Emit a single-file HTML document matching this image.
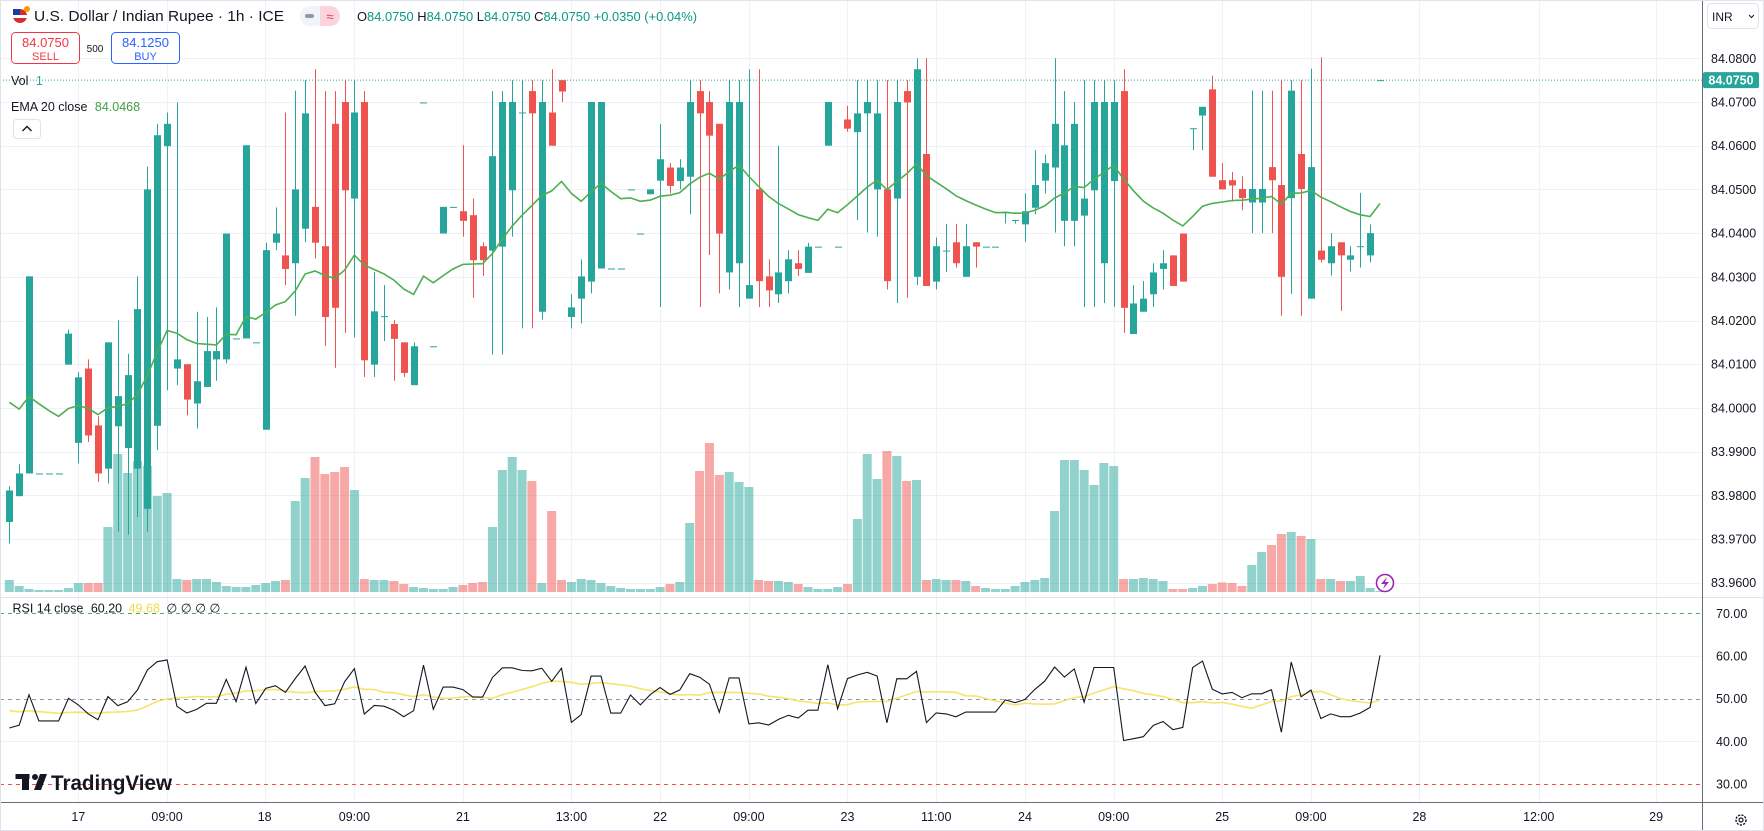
<!DOCTYPE html>
<html><head><meta charset="utf-8"><style>
html,body{margin:0;padding:0;background:#fff;}
svg{display:block;font-family:"Liberation Sans",sans-serif;}
</style></head><body>
<svg id="chart" width="1764" height="831" viewBox="0 0 1764 831" xmlns="http://www.w3.org/2000/svg">
<rect x="0" y="0" width="1764" height="831" fill="#ffffff"/>
<g id="grid"></g>
<g id="vol"></g>
<g id="candles"></g>
<g id="ema"></g>
<g id="rsi"></g>
<g id="axes"></g>

<g>
  <g>
    <circle cx="20" cy="16" r="7" fill="#d32f2f"/>
    <rect x="13" y="15" width="14" height="3" fill="#fff"/>
    <rect x="13" y="9" width="7" height="6" fill="#1a3e9c"/>
    <circle cx="27" cy="9" r="3" fill="#ff9800"/>
  </g>
  <text x="34" y="21" font-size="15" fill="#131722" textLength="250" lengthAdjust="spacingAndGlyphs">U.S. Dollar / Indian Rupee · 1h · ICE</text>
  <g>
    <rect x="300" y="6" width="40" height="20" rx="10" fill="#f0f3fa"/>
    <path d="M320,6 h10 a10,10 0 0 1 0,20 h-10 z" fill="#fcd4de"/>
    <rect x="305" y="14" width="9" height="4" rx="2" fill="#9598a1"/>
    <text x="330" y="21" font-size="13" fill="#f23645" text-anchor="middle">≈</text>
  </g>
  <text x="357" y="21" font-size="13" fill="#131722" textLength="340" lengthAdjust="spacingAndGlyphs">O<tspan fill="#089981">84.0750</tspan> H<tspan fill="#089981">84.0750</tspan> L<tspan fill="#089981">84.0750</tspan> C<tspan fill="#089981">84.0750</tspan> <tspan fill="#089981">+0.0350 (+0.04%)</tspan></text>
  <g>
    <rect x="11.5" y="32.5" width="68" height="31" rx="4" fill="#fff" stroke="#f23645"/>
    <text x="45.5" y="47" font-size="13" fill="#f23645" text-anchor="middle">84.0750</text>
    <text x="45.5" y="60" font-size="11" fill="#f23645" text-anchor="middle">SELL</text>
  </g>
  <text x="95" y="52" font-size="10" fill="#131722" text-anchor="middle">500</text>
  <g>
    <rect x="111.5" y="32.5" width="68" height="31" rx="4" fill="#fff" stroke="#2962ff"/>
    <text x="145.5" y="47" font-size="13" fill="#2962ff" text-anchor="middle">84.1250</text>
    <text x="145.5" y="60" font-size="11" fill="#2962ff" text-anchor="middle">BUY</text>
  </g>
  <text x="11" y="85" font-size="12.5" fill="#131722">Vol <tspan fill="#26a69a" dx="4">1</tspan></text>
  <text x="11" y="111" font-size="12.5" fill="#131722">EMA 20 close <tspan fill="#43a047" dx="4">84.0468</tspan></text>
  <g>
    <rect x="13.5" y="119.5" width="27" height="19" rx="3" fill="#fff" stroke="#e0e3eb"/>
    <path d="M22.5,131 L27,126.5 L31.5,131" fill="none" stroke="#131722" stroke-width="1.4"/>
  </g>
</g>

<g>
  <text x="12.5" y="612.5" font-size="12.5" fill="#131722">RSI 14 close <tspan dx="4">60.20</tspan> <tspan fill="#f2d94e" dx="3">49.68</tspan> <tspan dx="3">∅ ∅ ∅ ∅</tspan></text>
</g>

<g>
  <rect x="15.5" y="774" width="14" height="5" fill="#131722"/>
  <rect x="22" y="774" width="7" height="16" fill="#131722"/>
  <circle cx="35" cy="777" r="3" fill="#131722"/>
  <polygon points="40,774 47,774 41,790 34,790" fill="#131722"/>
  <text x="51" y="790" font-size="21" font-weight="bold" fill="#131722" textLength="121" lengthAdjust="spacingAndGlyphs">TradingView</text>
</g>

<g>
  <rect x="1707.5" y="3.5" width="51" height="25" rx="4" fill="#fff" stroke="#e0e3eb"/>
  <text x="1712" y="21" font-size="12" fill="#131722">INR</text>
  <path d="M1749,15 l2.5,2.5 l2.5,-2.5" fill="none" stroke="#131722" stroke-width="1"/>
</g>
<g>
  <circle cx="1385" cy="583" r="8.5" fill="#fff" stroke="#9c27b0" stroke-width="1.6"/>
  <path d="M1387,577 L1381,584 L1385,584 L1383,589 L1389,582 L1385,582 Z" fill="#9c27b0"/>
</g>
<g>
  <circle cx="1741" cy="820" r="5" fill="none" stroke="#131722" stroke-width="1.4" stroke-dasharray="2.2 1.2"/>
  <circle cx="1741" cy="820" r="2" fill="none" stroke="#131722" stroke-width="1.2"/>
</g>
</svg>
<script>
const opens=[83.9739,83.9798,83.9850,83.985,83.985,83.985,84.0099,83.9920,84.0090,83.9960,
83.9861,83.9958,83.9908,83.9861,83.9769,83.9959,84.0599,84.0090,84.0100,84.0010,
84.0048,84.0111,84.0111,84.0159,84.0159,84.0150,83.9950,84.0378,84.0349,84.0331,
84.0410,84.0460,84.0370,84.0650,84.0700,84.0479,84.0700,84.0099,84.0208,84.0192,
84.0150,84.0052,84.0699,84.0141,84.0399,84.0460,84.0450,84.0441,84.0370,84.0360,
84.0369,84.0498,84.0676,84.0725,84.0220,84.0676,84.0750,84.0208,84.0250,84.0289,
84.0319,84.0319,84.0319,84.0500,84.0399,84.0489,84.0520,84.0550,84.0519,84.0529,
84.0725,84.0700,84.0650,84.0310,84.0331,84.0250,84.0500,84.0301,84.0260,84.0290,
84.0331,84.0309,84.0369,84.0600,84.0369,84.0660,84.0631,84.0674,84.0500,84.0500,
84.0479,84.0725,84.0300,84.0581,84.0289,84.0360,84.0379,84.0300,84.0379,84.0369,
84.0369,84.0449,84.0430,84.0420,84.0458,84.0520,84.0550,84.0428,84.0428,84.0440,
84.0498,84.0331,84.0519,84.0725,84.0169,84.0220,84.0260,84.0318,84.0349,84.0399,
84.0640,84.0669,84.0729,84.0521,84.0521,84.0501,84.0470,84.0470,84.0551,84.0510,
84.0480,84.0581,84.0250,84.0360,84.0331,84.0379,84.0339,84.0370,84.0349,84.0750];
const highs=[83.9821,83.9871,84.0301,83.985,83.985,83.985,84.0179,84.0082,84.0111,83.9981,
84.0150,84.0201,84.0124,84.0301,84.0552,84.0650,84.0676,84.0699,84.0100,84.0220,
84.0208,84.0230,84.0399,84.0159,84.0601,84.0150,84.0378,84.0459,84.0676,84.0726,
84.0750,84.0775,84.0725,84.0725,84.0750,84.0750,84.0725,84.0311,84.0281,84.0201,
84.0150,84.0150,84.0699,84.0141,84.0460,84.0460,84.0601,84.0479,84.0379,84.0725,
84.0725,84.0750,84.0750,84.0750,84.0750,84.0775,84.0750,84.0260,84.0340,84.0700,
84.0700,84.0319,84.0319,84.0500,84.0399,84.0500,84.0650,84.0560,84.0569,84.0750,
84.0750,84.0725,84.0650,84.0750,84.0750,84.0775,84.0775,84.0340,84.0600,84.0361,
84.0361,84.0378,84.0369,84.0700,84.0369,84.0691,84.0750,84.0750,84.0750,84.0750,
84.0750,84.0750,84.0800,84.0800,84.0390,84.0421,84.0421,84.0421,84.0379,84.0369,
84.0369,84.0449,84.0430,84.0491,84.0590,84.0580,84.0800,84.0725,84.0700,84.0750,
84.0750,84.0750,84.0750,84.0775,84.0281,84.0290,84.0331,84.0361,84.0349,84.0399,
84.0640,84.0689,84.0760,84.0560,84.0540,84.0530,84.0726,84.0726,84.0726,84.0750,
84.0750,84.0750,84.0776,84.0802,84.0400,84.0379,84.0370,84.0492,84.0420,84.0750];
const lows=[83.9690,83.9798,83.9850,83.985,83.985,83.985,84.0099,83.9873,83.9922,83.9831,
83.9827,83.9717,83.9710,83.9750,83.9717,83.9903,84.0040,84.0052,83.9983,83.9953,
84.0048,84.0062,84.0102,84.0159,84.0159,84.0150,83.9950,84.0361,84.0281,84.0211,
84.0379,84.0342,84.0142,84.0092,84.0172,84.0161,84.0071,84.0071,84.0153,84.0062,
84.0071,84.0052,84.0699,84.0141,84.0399,84.0460,84.0392,84.0252,84.0302,84.0122,
84.0122,84.0392,84.0182,84.0182,84.0202,84.0600,84.0700,84.0182,84.0193,84.0262,
84.0319,84.0319,84.0319,84.0500,84.0399,84.0489,84.0231,84.0491,84.0500,84.0443,
84.0231,84.0350,84.0262,84.0271,84.0231,84.0250,84.0231,84.0231,84.0240,84.0262,
84.0302,84.0309,84.0369,84.0600,84.0369,84.0632,84.0430,84.0401,84.0392,84.0271,
84.0240,84.0252,84.0281,84.0279,84.0271,84.0311,84.0321,84.0300,84.0321,84.0369,
84.0369,84.0422,84.0422,84.0380,84.0443,84.0491,84.0401,84.0370,84.0370,84.0231,
84.0231,84.0240,84.0231,84.0172,84.0169,84.0220,84.0231,84.0271,84.0279,84.0289,
84.0590,84.0590,84.0529,84.0500,84.0472,84.0452,84.0400,84.0400,84.0400,84.0211,
84.0261,84.0211,84.0250,84.0333,84.0303,84.0222,84.0312,84.0321,84.0333,84.0750];
const closes=[83.9811,83.9850,84.0301,83.985,83.985,83.985,84.0170,84.0070,83.9937,83.9850,
84.0150,84.0027,84.0075,84.0226,84.0500,84.0624,84.0650,84.0111,84.0019,84.0061,
84.0130,84.0130,84.0399,84.0159,84.0601,84.0150,84.0361,84.0399,84.0318,84.0500,
84.0674,84.0378,84.0208,84.0229,84.0498,84.0676,84.0109,84.0221,84.0210,84.0158,
84.0080,84.0141,84.0699,84.0141,84.0460,84.0460,84.0428,84.0338,84.0338,84.0576,
84.0700,84.0700,84.0676,84.0674,84.0700,84.0600,84.0724,84.0230,84.0301,84.0700,
84.0700,84.0319,84.0319,84.0500,84.0399,84.0500,84.0569,84.0508,84.0550,84.0700,
84.0674,84.0623,84.0399,84.0700,84.0700,84.0281,84.0290,84.0269,84.0310,84.0340,
84.0318,84.0369,84.0369,84.0700,84.0369,84.0639,84.0674,84.0700,84.0674,84.0290,
84.0700,84.0699,84.0775,84.0279,84.0370,84.0360,84.0331,84.0370,84.0369,84.0369,
84.0369,84.0449,84.0430,84.0450,84.0510,84.0560,84.0650,84.0601,84.0650,84.0479,
84.0700,84.0700,84.0700,84.0229,84.0239,84.0250,84.0310,84.0331,84.0279,84.0289,
84.0640,84.0689,84.0529,84.0500,84.0509,84.0480,84.0501,84.0501,84.0521,84.0300,
84.0726,84.0501,84.0551,84.0339,84.0370,84.0349,84.0349,84.0370,84.0400,84.0750];
const volumes=[12,6,3,2,2,2,4,9,9,9,
65,138,119,131,126,96,99,
13,12,13,13,10,6,5,5,7,9,11,12,
91,114,135,118,120,125,102,
13,12,12,11,8,5,4,3,3,5,7,9,10,
65,122,135,122,111,9,81,
12,10,13,12,9,6,4,3,3,3,5,8,10,
69,121,149,117,120,110,105,
12,11,11,10,8,5,3,3,5,8,
73,138,113,141,136,111,112,
12,13,12,12,11,6,4,3,3,6,10,12,14,
81,132,132,122,107,129,126,
13,13,14,13,11,3,3,4,6,8,
9.5,9,6,27,40,47,58,60,56,53,13,13,11,11,16,4,1];
const priceTicks=["84.0800","84.0700","84.0600","84.0500","84.0400","84.0300","84.0200","84.0100","84.0000","83.9900","83.9800","83.9700","83.9600"];
const rsiTicks=[70,60,50,40,30];
const timeLabels=["17","09:00","18","09:00","21","13:00","22","09:00","23","11:00","24","09:00","25","09:00","28","12:00","29"];
const timeSlots=[7.0,16.0,25.9,35.0,46.0,57.0,66.0,75.0,85.0,94.0,103.0,112.0,123.0,132.0,143.0,155.1,167.0];
const emaSeed=84.0034, rsiSeedGain=0.011, rsiSeedLoss=0.0145, rsiMaSeed=47.5;

const NS="http://www.w3.org/2000/svg";
const PLOT_R=1702;
const xAt=i=>9.3+i*9.861;
const py=p=>58.3+(84.08-p)*4370;
const ry=v=>613.3+(70-v)*4.27;
const VBASE=592;
const maxV=Math.max(...volumes);
const vh=v=>v/maxV*149;
function el(tag,attrs,parent){const e=document.createElementNS(NS,tag);for(const k in attrs)e.setAttribute(k,attrs[k]);parent.appendChild(e);return e;}

const grid=document.getElementById('grid');
priceTicks.forEach(t=>{const yy=Math.round(py(parseFloat(t)))+0.5;
 const l=el('line',{x1:0,x2:PLOT_R,y1:yy,y2:yy,stroke:'#eef1f6','stroke-width':1},grid);
 
 });
[60,40].forEach(v=>{const yy=Math.round(ry(v))+0.5;
 const l=el('line',{x1:0,x2:PLOT_R,y1:yy,y2:yy,stroke:'#eef1f6'},grid);
 
 });
timeSlots.forEach(s=>{const xx=Math.round(xAt(s))+0.5;
 const l=el('line',{x1:xx,x2:xx,y1:0,y2:802,stroke:'#eef1f6'},grid);
 
 });

const vg=document.getElementById('vol');
volumes.forEach((v,i)=>{const up=closes[i]>=opens[i];const h=vh(v);
 const r=el('rect',{x:xAt(i)-4.5,y:VBASE-h,width:9,height:h,fill:up?'rgba(38,166,154,0.5)':'rgba(239,83,80,0.5)'},vg);
 
 });

const cg=document.getElementById('candles');
opens.forEach((o,i)=>{const c=closes[i];const up=c>=o;const col=up?'#26a69a':'#ef5350';const xx=Math.round(xAt(i))+0.5;
 const w=el('line',{x1:xx,x2:xx,y1:py(highs[i]),y2:py(lows[i]),stroke:col,'stroke-width':1},cg);
 
 
 const top=py(Math.max(o,c)),bot=py(Math.min(o,c));
 const b=el('rect',{x:xx-3.5,y:top,width:7,height:Math.max(1,bot-top),fill:col},cg);
 
 });

let e=emaSeed;const emaPts=[];const kk=2/21;
closes.forEach((c,i)=>{e=c*kk+e*(1-kk);emaPts.push(xAt(i).toFixed(1)+','+py(e).toFixed(1));});
const emaL=el('polyline',{points:emaPts.join(' '),fill:'none',stroke:'#4caf50','stroke-width':1.6},document.getElementById('ema'));



const ax=document.getElementById('axes');
const lastP=closes[closes.length-1];
const pl=el('line',{x1:0,x2:PLOT_R,y1:py(lastP),y2:py(lastP),stroke:'#26a69a','stroke-dasharray':'1 2'},ax);



const rg=document.getElementById('rsi');
let ag=rsiSeedGain,al=rsiSeedLoss;const rsiV=[100-100/(1+ag/al)];
for(let i=1;i<closes.length;i++){const d=closes[i]-closes[i-1];ag=(ag*13+Math.max(d,0))/14;al=(al*13+Math.max(-d,0))/14;rsiV.push(al===0?100:100-100/(1+ag/al));}
const buf=[];for(let i=0;i<13;i++)buf.push(rsiMaSeed);
const maV=rsiV.map(v=>{buf.push(v);if(buf.length>14)buf.shift();return buf.reduce((a,b)=>a+b,0)/buf.length;});
[[70,'#4caf50'],[50,'#9598a1'],[30,'#ef5350']].forEach(([v,c])=>{const yy=Math.round(ry(v))+0.5;
 const l=el('line',{x1:0,x2:PLOT_R,y1:yy,y2:yy,stroke:c,'stroke-dasharray':'4 4'},rg);
 
 });
const maL=el('polyline',{points:maV.map((v,i)=>xAt(i).toFixed(1)+','+ry(v).toFixed(1)).join(' '),fill:'none',stroke:'#f7e36d','stroke-width':1.6},rg);


const rL=el('polyline',{points:rsiV.map((v,i)=>xAt(i).toFixed(1)+','+ry(v).toFixed(1)).join(' '),fill:'none',stroke:'#131722','stroke-width':1.1},rg);



const sep=el('line',{x1:0,x2:1764,y1:597.5,y2:597.5,stroke:'#e0e3eb'},ax);


const ta=el('line',{x1:0,x2:1764,y1:802.5,y2:802.5,stroke:'#6a6d78'},ax);


const pa=el('line',{x1:PLOT_R+0.5,x2:PLOT_R+0.5,y1:0,y2:831,stroke:'#6a6d78'},ax);


const fr=el('rect',{x:0.5,y:0.5,width:1763,height:830,fill:'none',stroke:'#e0e3eb'},ax);


priceTicks.forEach(t=>{const tx=el('text',{x:1711,y:py(parseFloat(t))+4.5,'font-size':12.5,fill:'#131722'},ax);tx.textContent=t;
 
 });
rsiTicks.forEach(v=>{const tx=el('text',{x:1716,y:ry(v)+4.5,'font-size':12.5,fill:'#131722'},ax);tx.textContent=v.toFixed(2);
 
 });
timeLabels.forEach((t,i)=>{const tx=el('text',{x:xAt(timeSlots[i]),y:821,'font-size':12.5,fill:'#131722','text-anchor':'middle'},ax);tx.textContent=t;
 
 });
const lastY=py(lastP);
const box=el('rect',{x:1703,y:lastY-8,width:56,height:16,rx:2,fill:'#26a69a'},ax);


const bt=el('text',{x:1731,y:lastY+4.5,'font-size':12.5,'font-weight':'bold',fill:'#fff','text-anchor':'middle'},ax);bt.textContent=lastP.toFixed(4);


</script>
</body></html>
